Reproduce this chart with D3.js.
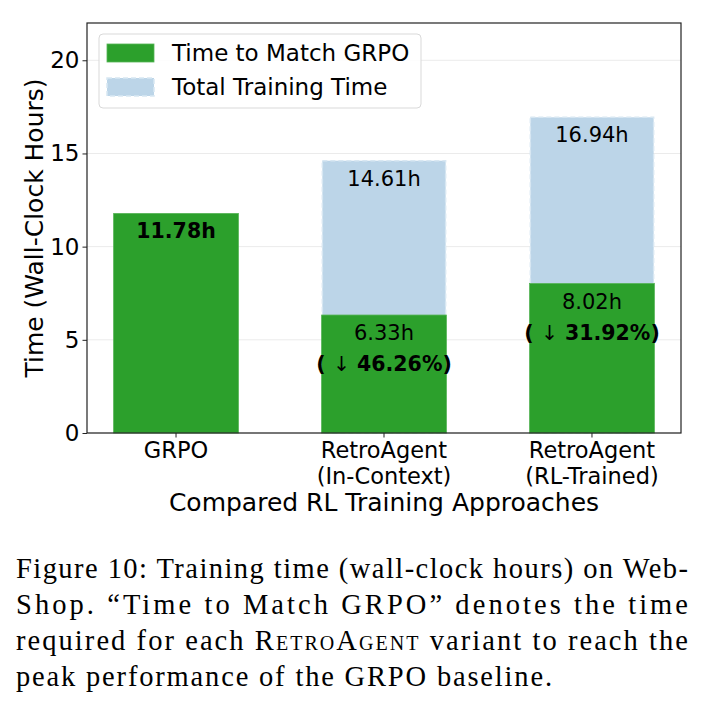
<!DOCTYPE html>
<meta charset="utf-8" />
<style>
  html, body { margin: 0; padding: 0; background: #fff; }
  svg { display: block; }
  .sans { font-family: "DejaVu Sans", sans-serif; }
  .serif { font-family: "Liberation Serif", "DejaVu Serif", serif; white-space: pre; }
</style>
<script src="https://d3js.org/d3.v7.min.js"></script>
<div id="chart"></div>
<script>
  // data
  const categories = ['GRPO', 'RetroAgent (In-Context)', 'RetroAgent (RL-Trained)'];
  const tickLines = [['GRPO'], ['RetroAgent', '(In-Context)'], ['RetroAgent', '(RL-Trained)']];
  const matchTime = [11.78, 6.33, 8.02];
  const totalTime = [null, 14.61, 16.94];
  const reduction = [null, 46.26, 31.92];
  const yTicks = [0, 5, 10, 15, 20];
  const legendLabels = ['Time to Match GRPO', 'Total Training Time'];
  const captionLines = [
    'Figure 10: Training time (wall-clock hours) on Web-',
    'Shop.  \u201CTime to Match GRPO\u201D denotes the time',
    null, // line with small caps, built below
    'peak performance of the GRPO baseline.',
  ];

  const W = 710, H = 708;
  const green = '#2ca02c';
  const blue = '#bcd5e8';

  const svg = d3.select('#chart').append('svg')
    .attr('width', W).attr('height', H);

  const axL = 87, axR = 681, axT = 23, axB = 433;

  const x = d3.scaleBand()
    .domain(categories)
    .range([axL, axR])
    .paddingInner(0.4)
    .paddingOuter(0.128);

  const y = d3.scaleLinear().domain([0, 22]).range([axB, axT]);

  // grid
  svg.append('g')
    .selectAll('line')
    .data(yTicks)
    .enter().append('line')
    .attr('x1', axL).attr('x2', axR)
    .attr('y1', d => y(d)).attr('y2', d => y(d))
    .attr('stroke', '#ebebeb').attr('stroke-width', 1);

  // total training time bars (behind)
  const idx = d3.range(categories.length);
  svg.append('g')
    .selectAll('rect')
    .data(idx.filter(i => totalTime[i] != null))
    .enter().append('rect')
    .attr('x', i => x(categories[i]) + 0.75)
    .attr('y', i => y(totalTime[i]))
    .attr('width', x.bandwidth() - 1.5)
    .attr('height', i => y(0) - y(totalTime[i]))
    .attr('fill', blue)
    .attr('stroke', '#d8e7f2')
    .attr('stroke-width', 1.5)
    .attr('stroke-dasharray', '5,3');

  // time to match bars
  svg.append('g')
    .selectAll('rect')
    .data(idx)
    .enter().append('rect')
    .attr('x', i => x(categories[i]))
    .attr('y', i => y(matchTime[i]))
    .attr('width', x.bandwidth())
    .attr('height', i => y(0) - y(matchTime[i]))
    .attr('fill', green)
    .attr('stroke', '#55b455')
    .attr('stroke-width', 0.8);

  // bar labels
  const lab = svg.append('g').attr('class', 'sans').attr('text-anchor', 'middle')
    .attr('dominant-baseline', 'central').attr('fill', '#000');
  idx.forEach(i => {
    const cx = x(categories[i]) + x.bandwidth() / 2;
    if (totalTime[i] != null) {
      lab.append('text').attr('x', cx).attr('y', y(totalTime[i]) + 18)
        .attr('font-size', 21).text(totalTime[i].toFixed(2) + 'h');
      lab.append('text').attr('x', cx).attr('y', y(matchTime[i]) + 18)
        .attr('font-size', 21).text(matchTime[i].toFixed(2) + 'h');
      const t = lab.append('text').attr('x', cx).attr('y', y(matchTime[i]) + 49)
        .attr('font-size', 20.5).attr('font-weight', 'bold');
      t.append('tspan').text('( ');
      t.append('tspan').attr('font-weight', 'normal').text('\u2193');
      t.append('tspan').text(' ' + reduction[i].toFixed(2) + '%)');
    } else {
      lab.append('text').attr('x', cx).attr('y', y(matchTime[i]) + 18)
        .attr('font-size', 20.5).attr('font-weight', 'bold')
        .text(matchTime[i].toFixed(2) + 'h');
    }
  });

  // frame
  svg.append('rect')
    .attr('x', axL).attr('y', axT)
    .attr('width', axR - axL).attr('height', axB - axT)
    .attr('fill', 'none').attr('stroke', '#222').attr('stroke-width', 1.2);

  // y axis
  const yAxis = svg.append('g').attr('class', 'sans')
    .attr('transform', `translate(${axL},0)`)
    .call(d3.axisLeft(y).tickValues(yTicks).tickSize(4.5).tickPadding(3));
  yAxis.select('.domain').remove();
  yAxis.selectAll('text').attr('font-size', 23).attr('fill', '#000')
    .attr('font-family', '"DejaVu Sans", sans-serif');
  yAxis.selectAll('line').attr('stroke', '#222');

  // x axis
  const xAxis = svg.append('g')
    .attr('transform', `translate(0,${axB})`)
    .call(d3.axisBottom(x).tickSize(4.5).tickFormat(''));
  xAxis.select('.domain').remove();
  xAxis.selectAll('line').attr('stroke', '#222');

  const xl = svg.append('g').attr('class', 'sans').attr('text-anchor', 'middle')
    .attr('font-size', 22.5).attr('fill', '#000');
  idx.forEach(i => {
    const cx = x(categories[i]) + x.bandwidth() / 2;
    tickLines[i].forEach((t, k) => {
      xl.append('text').attr('x', cx).attr('y', 458 + k * 26).text(t);
    });
  });

  svg.append('text').attr('class', 'sans')
    .attr('x', (axL + axR) / 2).attr('y', 511)
    .attr('text-anchor', 'middle').attr('font-size', 25)
    .text('Compared RL Training Approaches');

  svg.append('text').attr('class', 'sans')
    .attr('transform', `translate(43,${(axT + axB) / 2}) rotate(-90)`)
    .attr('text-anchor', 'middle').attr('font-size', 25)
    .text('Time (Wall-Clock Hours)');

  // legend
  const lg = svg.append('g').attr('class', 'sans');
  lg.append('rect')
    .attr('x', 99).attr('y', 34).attr('width', 322).attr('height', 74)
    .attr('rx', 4).attr('fill', 'rgba(255,255,255,0.85)')
    .attr('stroke', '#d9d9d9').attr('stroke-width', 1);
  legendLabels.forEach((t, k) => {
    const ly = 53 + k * 34;
    lg.append('rect')
      .attr('x', 107).attr('y', ly - 9).attr('width', 47).attr('height', 18)
      .attr('fill', k === 0 ? green : blue)
      .attr('stroke', k === 0 ? '#55b455' : '#d8e7f2')
      .attr('stroke-width', k === 0 ? 0.8 : 1.5)
      .attr('stroke-dasharray', k === 0 ? null : '5,3');
    lg.append('text').attr('x', 172).attr('y', ly)
      .attr('dominant-baseline', 'central').attr('font-size', 23)
      .text(t);
  });

  // caption
  const cap = svg.append('g').attr('class', 'serif').attr('font-size', 28.5).attr('fill', '#000');
  const capLeft = 16, capRight = 688, base0 = 578, lineGap = 36;
  captionLines.forEach((t, k) => {
    const tx = cap.append('text')
      .attr('x', capLeft).attr('y', base0 + k * lineGap)
      .attr('lengthAdjust', 'spacing');
    if (k === 2) {
      tx.append('tspan').text('required for each ');
      tx.append('tspan').style('font-variant', 'small-caps').text('RetroAgent');
      tx.append('tspan').text(' variant to reach the');
    } else {
      tx.text(t);
    }
    tx.attr('textLength', k === 3 ? 536 : capRight - capLeft);
  });
</script>
